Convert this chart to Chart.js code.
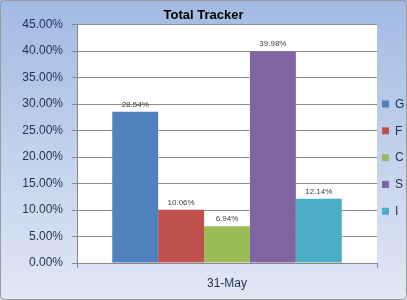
<!DOCTYPE html>
<html>
<head>
<meta charset="utf-8">
<script src="https://cdn.jsdelivr.net/npm/chart.js@4/dist/chart.umd.min.js"></script>
<style>
    html, body { margin: 0; padding: 0; background: #ffffff; }
    #wrap { width: 407px; height: 300px; position: relative; }
</style>
</head>
<body>
<div id="wrap"><canvas id="trackerChart"></canvas></div>
<script>
const categories = ["31-May"];
const seriesNames = ["G", "F", "C", "S", "I"];
const seriesValues = [[0.2854], [0.1006], [0.0694], [0.3998], [0.1214]];
const seriesColours = ["#4f81bd", "#c0504d", "#9bbb59", "#8064a2", "#4bacc6"];

const fontFamily = "'Liberation Sans', Arial, sans-serif";

function pct(v) {
    return (v * 100).toFixed(2) + "%";
}

// gradient frame, white plot area, border
const backdrop = {
    id: "backdrop",
    beforeDraw(chart) {
        const ctx = chart.ctx;
        const a = chart.chartArea;
        ctx.save();
        let g = ctx.createLinearGradient(0, 0, 0, chart.height);
        g.addColorStop(0, "#a2bae3");
        g.addColorStop(1, "#e1e8f5");
        ctx.fillStyle = g;
        ctx.fillRect(0, 0, chart.width, chart.height);
        ctx.fillStyle = "#ffffff";
        ctx.fillRect(a.left, a.top, a.right - a.left, a.bottom - a.top);
        ctx.restore();
    },
    afterDraw(chart) {
        const ctx = chart.ctx;
        ctx.save();
        ctx.strokeStyle = "#9a9a9a";
        ctx.lineWidth = 1;
        ctx.beginPath();
        ctx.roundRect(0.5, 0.5, chart.width - 1, chart.height - 1, 4);
        ctx.stroke();
        ctx.restore();
    }
};

// value labels above the bars
const barLabels = {
    id: "barLabels",
    afterDatasetsDraw(chart) {
        const ctx = chart.ctx;
        ctx.save();
        ctx.font = "8px " + fontFamily;
        ctx.fillStyle = "#404040";
        ctx.textAlign = "center";
        ctx.textBaseline = "middle";
        chart.data.datasets.forEach((ds, i) => {
            chart.getDatasetMeta(i).data.forEach((bar, j) => {
                ctx.fillText(pct(ds.data[j]), bar.x, bar.y - 7);
            });
        });
        ctx.restore();
    }
};

// legend on the right
const sideLegend = {
    id: "sideLegend",
    afterDraw(chart) {
        const ctx = chart.ctx;
        ctx.save();
        ctx.font = "12px " + fontFamily;
        ctx.textBaseline = "middle";
        ctx.textAlign = "left";
        chart.data.datasets.forEach((ds, i) => {
            const y = 104 + i * 26.8;
            ctx.fillStyle = ds.backgroundColor;
            ctx.fillRect(382, y - 3.5, 7, 7);
            ctx.fillStyle = "#1f2f4f";
            ctx.fillText(ds.label, 395, y + 0.5);
        });
        ctx.restore();
    }
};

const ctx = document.getElementById("trackerChart").getContext("2d");
const trackerChart = new Chart(ctx, {
    type: "bar",
    data: {
        labels: categories,
        datasets: seriesNames.map((name, i) => ({
            label: name,
            data: seriesValues[i],
            backgroundColor: seriesColours[i],
            borderWidth: 0,
            categoryPercentage: 0.765,
            barPercentage: 1.0
        }))
    },
    options: {
        responsive: true,
        maintainAspectRatio: false,
        animation: false,
        layout: {
            padding: 0
        },
        plugins: {
            legend: { display: false },
            tooltip: { enabled: false },
            title: {
                display: true,
                text: "Total Tracker",
                color: "#000000",
                font: { family: fontFamily, size: 13, weight: "bold" },
                padding: { top: 8, bottom: 1 }
            }
        },
        scales: {
            x: {
                grid: {
                    display: true,
                    offset: true,
                    drawOnChartArea: false,
                    tickLength: 5,
                    color: "#868686"
                },
                border: { color: "#868686" },
                ticks: {
                    color: "#1f2f4f",
                    font: { family: fontFamily, size: 12 },
                    padding: 8
                },
                afterFit(scale) {
                    scale.height = 37;
                }
            },
            y: {
                min: 0,
                max: 0.45,
                grid: {
                    color: "#8c8c8c",
                    tickLength: 5
                },
                border: { color: "#868686" },
                ticks: {
                    stepSize: 0.05,
                    color: "#1f2f4f",
                    font: { family: fontFamily, size: 12 },
                    padding: 9,
                    callback: (v) => pct(v)
                },
                afterFit(scale) {
                    scale.width = 77;
                }
            },
            // empty right-hand axis that reserves room for the legend
            legendSpace: {
                type: "linear",
                position: "right",
                grid: { display: false },
                border: { display: false },
                ticks: { display: false },
                afterFit(scale) {
                    scale.width = 30;
                }
            }
        }
    },
    plugins: [backdrop, barLabels, sideLegend]
});
</script>
</body>
</html>
